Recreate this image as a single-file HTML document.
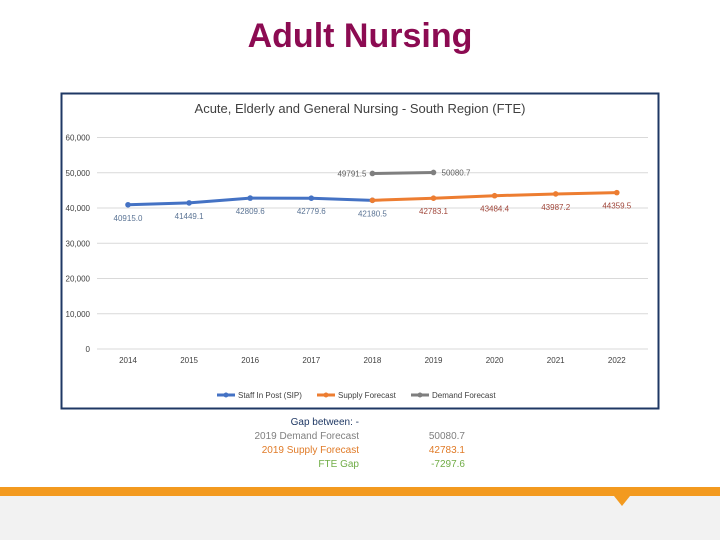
<!DOCTYPE html>
<html><head><meta charset="utf-8"><style>
body{margin:0;width:720px;height:540px;background:#fff;position:relative;overflow:hidden;font-family:"Liberation Sans",sans-serif}
.t{position:absolute}
</style></head><body>
<div class="t" style="left:0;width:720px;top:17px;text-align:center;font-size:34px;font-weight:bold;color:#8c0b52">Adult Nursing</div>
<svg class="t" style="left:0;top:0" width="720" height="540">
<rect x="61.5" y="93.5" width="597" height="315" fill="#fff" stroke="#1f3864" stroke-width="2"/>
<text x="360" y="113" text-anchor="middle" font-size="13" fill="#404040">Acute, Elderly and General Nursing - South Region (FTE)</text>
<g id="grid"></g><g id="series"></g>
<g font-size="8" fill="#404040">
<line x1="217" y1="395" x2="235" y2="395" stroke="#4472c4" stroke-width="3"/><circle cx="226" cy="395" r="2.5" fill="#4472c4"/>
<text x="238" y="398">Staff In Post (SIP)</text>
<line x1="317" y1="395" x2="335" y2="395" stroke="#ed7d31" stroke-width="3"/><circle cx="326" cy="395" r="2.5" fill="#ed7d31"/>
<text x="338" y="398">Supply Forecast</text>
<line x1="411" y1="395" x2="429" y2="395" stroke="#7f7f7f" stroke-width="3"/><circle cx="420" cy="395" r="2.5" fill="#7f7f7f"/>
<text x="432" y="398">Demand Forecast</text>
</g>
<rect x="0" y="487" width="720" height="9" fill="#f39a1f"/>
<rect x="0" y="496" width="720" height="44" fill="#f2f2f2"/>
<path d="M614 496 L630 496 L622 506 Z" fill="#f39a1f"/>
</svg>
<div class="t" style="left:200px;top:416px;font-size:10px;line-height:14px;width:265px">
<div style="position:absolute;right:106px;text-align:right;white-space:nowrap">
<div style="color:#1f3864">Gap between: -</div>
<div style="color:#7f7f7f">2019 Demand Forecast</div>
<div style="color:#e07b28">2019 Supply Forecast</div>
<div style="color:#70ad47">FTE Gap</div></div>
<div style="position:absolute;right:0;text-align:right"><div>&nbsp;</div>
<div style="color:#7f7f7f">50080.7</div>
<div style="color:#e07b28">42783.1</div>
<div style="color:#70ad47">-7297.6</div></div>
</div>
<script>
const years=["2014","2015","2016","2017","2018","2019","2020","2021","2022"];
const sipValues=[40915.0,41449.1,42809.6,42779.6,42180.5];
const supplyValues=[42180.5,42783.1,43484.4,43987.2,44359.5];
const demandValues=[49791.5,50080.7];
const yTicks=[0,10000,20000,30000,40000,50000,60000];
const NS="http://www.w3.org/2000/svg";
const xs=i=>128+i*61.1, ys=v=>349-v*0.003525;
function mk(t,a,p){const e=document.createElementNS(NS,t);for(const k in a)e.setAttribute(k,a[k]);p.appendChild(e);return e;}
const g=document.getElementById('grid'),s=document.getElementById('series');
yTicks.forEach(v=>{
 const l=mk('line',{x1:97,x2:648,y1:ys(v),y2:ys(v),stroke:'#d9d9d9','stroke-width':1},g);
 
 
 const t=mk('text',{x:90,y:ys(v)+3,'text-anchor':'end','font-size':8,fill:'#404040'},g);
 t.textContent=v.toLocaleString('en-US');
 
 
});
years.forEach((y,i)=>{
 const t=mk('text',{x:xs(i),y:363,'text-anchor':'middle','font-size':8,fill:'#404040'},g);
 t.textContent=y;
 
 
});
function series(vals,off,color,name,lab,labColor){
 const pts=vals.map((v,i)=>xs(i+off)+','+ys(v)).join(' ');
 const p=mk('polyline',{points:pts,fill:'none',stroke:color,'stroke-width':3},s);
 
 
 vals.forEach((v,i)=>{
  const c=mk('circle',{cx:xs(i+off),cy:ys(v),r:2.8,fill:color},s);
  
  
  if(lab(i)){const [dx,dy,anc]=lab(i);
   const t=mk('text',{x:xs(i+off)+dx,y:ys(v)+dy,'text-anchor':anc,'font-size':8,fill:labColor},s);
   t.textContent=v.toFixed(1);
   
   }
 });
}
series(sipValues,0,'#4472c4','sip',i=>[0,16,'middle'],'#5a7394');
series(supplyValues,4,'#ed7d31','supply',i=>i==0?null:[0,16,'middle'],'#a0463a');
series(demandValues,4,'#7f7f7f','demand',i=>i==0?[-6,3,'end']:[8,3,'start'],'#606060');
</script>
</body></html>
